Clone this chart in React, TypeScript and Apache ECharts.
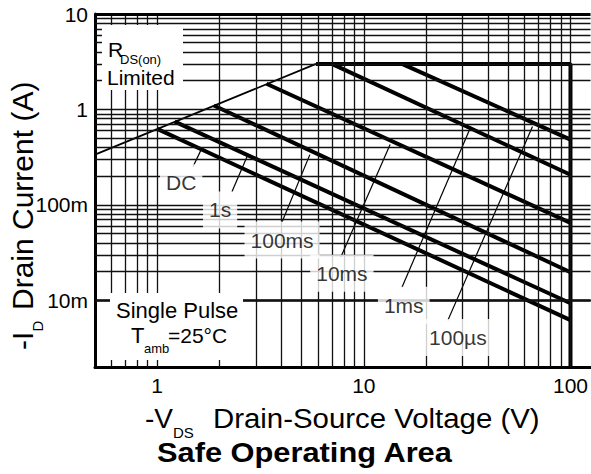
import React, { useEffect, useRef } from "react";
import * as echarts from "echarts";

// Axis extents
const xMin = 0.5;
const xMax = 125;
const yMin = 0.002;
const yMax = 10;

// Tick labels
const xTickValues = [1, 10, 100];
const xTickLabels = ["1", "10", "100"];
const yTickValues = [0.01, 0.1, 1, 10];
const yTickLabels = ["10m", "100m", "1", "10"];

// Log grid lines
const xGridValues = [0.6, 0.7, 0.8, 0.9, 1, 2, 3, 4, 5, 6, 7, 8, 9, 10, 20, 30, 40, 50, 60, 70, 80, 90, 100];
const yGridValues = [
  0.003, 0.004, 0.005, 0.006, 0.007, 0.008, 0.009,
  0.01, 0.02, 0.03, 0.04, 0.05, 0.06, 0.07, 0.08, 0.09,
  0.1, 0.2, 0.3, 0.4, 0.5, 0.6, 0.7, 0.8, 0.9,
  1, 2, 3, 4, 5, 6, 7, 8, 9,
];

// Limit curves [V, A]
const rdsOnLine = [[0.5, 0.336], [5.87, 3]];
const maxLimitLine = [[5.87, 3], [100, 3], [100, 0.002]];

// Pulse curves [V, A]
const dcLine = [[1.0, 0.625], [100, 0.0062]];
const s1Line = [[1.216, 0.744], [100, 0.0093]];
const ms100Line = [[1.88, 1.1], [100, 0.0197]];
const ms10Line = [[3.38, 1.86], [100, 0.0647]];
const ms1Line = [[7.0, 3], [100, 0.207]];
const us100Line = [[15.3, 3], [100, 0.483]];

// Leader lines from labels to curves [V, A]
const dcLeader = [[1.49, 0.251], [1.65, 0.398]];
const s1Leader = [[2.3, 0.137], [2.72, 0.32]];
const ms100Leader = [[4.02, 0.0662], [5.48, 0.336]];
const ms10Leader = [[7.74, 0.0284], [13.4, 0.428]];
const ms1Leader = [[15.3, 0.0137], [32.5, 0.616]];
const us100Leader = [[25.5, 0.00616], [65.5, 0.662]];

// Curve labels
const curveLabelNames = ["DC", "1s", "100ms", "10ms", "1ms", "100µs"];
const curveLabelV = [1.306, 2.015, 4.02, 7.83, 15.6, 28.5];
const curveLabelA = [0.1705, 0.0886, 0.0428, 0.0192, 0.00886, 0.00408];

const FONT = "'Liberation Sans', Arial, Helvetica, sans-serif";

function makeFormatter(values: number[], labels: string[]) {
  return (v: number) => {
    for (let i = 0; i < values.length; i++) {
      if (Math.abs(Math.log10(v) - Math.log10(values[i])) < 0.01) return labels[i];
    }
    return "";
  };
}

function txt(text: string, x: number, y: number, size: number, extra: any = {}) {
  return {
    type: "text",
    x,
    y,
    z: 60,
    scaleX: extra.scaleX ?? 1,
    style: {
      text,
      fontSize: size,
      fontFamily: FONT,
      fontWeight: extra.bold ? "bold" : "normal",
      fill: "#000",
      align: "left",
      verticalAlign: "middle",
    },
  };
}

export default function App() {
  const ref = useRef<HTMLDivElement>(null);

  useEffect(() => {
    if (!ref.current) return;
    const chart = echarts.init(ref.current, undefined, { renderer: "svg" });

    const thick = (data: number[][]) => ({
      type: "line",
      data,
      symbol: "none",
      silent: true,
      z: 4,
      lineStyle: { color: "#000", width: 4, cap: "butt" },
    });
    const leader = (data: number[][]) => ({
      type: "line",
      data,
      symbol: "none",
      silent: true,
      z: 3,
      lineStyle: { color: "#000", width: 1.2 },
    });

    const option: any = {
      animation: false,
      backgroundColor: "#fff",
      grid: { left: 95, right: 0, top: 14, bottom: 107, containLabel: false },
      xAxis: {
        type: "log",
        logBase: 10,
        min: xMin,
        max: xMax,
        axisLine: { show: true, onZero: false, lineStyle: { color: "#000", width: 3 } },
        axisTick: { show: false },
        splitLine: { show: false },
        axisLabel: {
          show: true,
          showMinLabel: false,
          showMaxLabel: false,
          formatter: makeFormatter(xTickValues, xTickLabels),
          fontSize: 21,
          fontFamily: FONT,
          color: "#000",
          margin: 8,
        },
      },
      yAxis: {
        type: "log",
        logBase: 10,
        min: yMin,
        max: yMax,
        axisLine: { show: true, onZero: false, lineStyle: { color: "#000", width: 3 } },
        axisTick: { show: false },
        splitLine: { show: false },
        axisLabel: {
          show: true,
          showMinLabel: false,
          showMaxLabel: true,
          formatter: makeFormatter(yTickValues, yTickLabels),
          fontSize: 21,
          fontFamily: FONT,
          color: "#000",
          margin: 7,
        },
      },
      series: [
        {
          type: "line",
          data: [],
          silent: true,
          z: 1,
          markLine: {
            silent: true,
            symbol: ["none", "none"],
            label: { show: false },
            emphasis: { disabled: true },
            lineStyle: { color: "#111", width: 1.3, type: "solid" },
            data: [
              ...xGridValues.map((v) => ({ xAxis: v })),
              ...yGridValues.map((v) => ({ yAxis: v })),
              { yAxis: yMax, lineStyle: { color: "#000", width: 3, type: "solid" } },
            ],
          },
        },
        {
          type: "line",
          data: rdsOnLine,
          symbol: "none",
          silent: true,
          z: 3,
          lineStyle: { color: "#000", width: 1.7 },
        },
        thick(maxLimitLine),
        thick(dcLine),
        thick(s1Line),
        thick(ms100Line),
        thick(ms10Line),
        thick(ms1Line),
        thick(us100Line),
        leader(dcLeader),
        leader(s1Leader),
        leader(ms100Leader),
        leader(ms10Leader),
        leader(ms1Leader),
        leader(us100Leader),
        {
          type: "scatter",
          z: 10,
          silent: true,
          symbolSize: 0,
          data: curveLabelNames.map((n, i) => ({ name: n, value: [curveLabelV[i], curveLabelA[i]] })),
          label: {
            show: true,
            position: "inside",
            formatter: "{b}",
            fontSize: 21,
            fontFamily: FONT,
            color: "#000",
            backgroundColor: "#fff",
            padding: [8, 6],
            align: "center",
            verticalAlign: "middle",
          },
        },
      ],
      graphic: [
        // RDS(on) Limited box
        { type: "rect", z: 50, shape: { x: 102, y: 25, width: 81, height: 65 }, style: { fill: "#fff" } },
        txt("R", 108, 49, 21),
        txt("DS(on)", 120, 59, 13),
        txt("Limited", 107, 77, 21),
        // Single pulse box
        { type: "rect", z: 50, shape: { x: 110, y: 293, width: 133, height: 67 }, style: { fill: "#fff" } },
        txt("Single Pulse", 116, 310, 22),
        txt("T", 131, 335, 22),
        txt("amb", 144, 348, 13),
        txt("=25°C", 168, 335, 21),
        // Y axis title
        {
          type: "group",
          x: 22,
          y: 350,
          rotation: Math.PI / 2,
          children: [
            txt("-I", 0, 0, 30),
            txt("D", 18.5, 15, 15),
            txt("Drain Current (A)", 40, 0, 30),
          ],
        },
        // X axis title
        txt("-V", 145, 418, 28),
        txt("DS", 173, 432, 15),
        txt("Drain-Source Voltage (V)", 213, 418, 28, { scaleX: 1.05 }),
        // Chart title
        txt("Safe Operating Area", 157, 452, 28, { bold: true, scaleX: 1.1 }),
      ],
    };

    chart.setOption(option);
    return () => chart.dispose();
  }, []);

  return (
    <div
      ref={ref}
      style={{ position: "fixed", left: 0, top: 0, width: 591, height: 474, background: "#fff" }}
    />
  );
}
